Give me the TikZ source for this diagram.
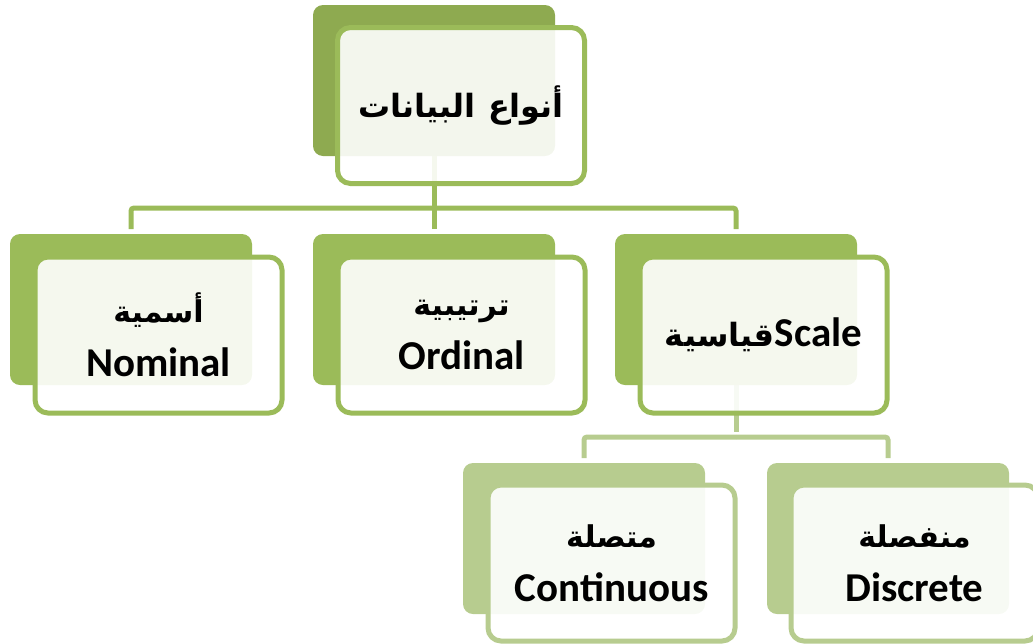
\documentclass[tikz,border=0pt]{standalone}
\usepackage{fontspec}
\TeXXeTstate=1
\newfontfamily\arfont[Script=Arabic]{DejaVu Sans}
\newfontfamily\lafont{Carlito}
\pgfdeclarelayer{bg}
\pgfsetlayers{bg,main}
\definecolor{gA}{HTML}{8EAA50}
\definecolor{gB}{HTML}{9BBB59}
\definecolor{gC}{HTML}{B7CC8F}
\newcommand{\artxt}[1]{{\fontsize{30}{50}\selectfont\arfont\beginR #1\endR}}
\begin{document}
\begin{tikzpicture}[x=1pt,y=-1pt,
  back/.style={rectangle, rounded corners=10pt, minimum width=242pt, minimum height=151pt,
    inner sep=0pt, outer sep=0pt, anchor=north west},
  front/.style={rectangle, rounded corners=13pt, draw, line width=5pt, fill=white,
    fill opacity=0.9, text opacity=1, minimum width=247pt, minimum height=156pt,
    inner sep=0pt, outer sep=0pt, anchor=north west, align=center,
    font=\fontsize{41}{50}\selectfont\bfseries},
  conn/.style={line width=5pt, rounded corners=3pt, shorten >=5pt}]
\useasboundingbox (0,0) rectangle (1033,643);
% level 1
\node[back, fill=gA] (topb) at (313,5) {};
\node[front, draw=gB] (topf) at (337.5,27.5) {\fontsize{32}{50}\selectfont\arfont\beginR أنواع\hspace{0.4em}البيانات\endR};
% level 2
\node[back, fill=gB] (nomb) at (10,234) {};
\node[front, draw=gB] (nomf) at (35,257) {\artxt{أسمية}\\[4pt]{\lafont Nominal}};
\node[back, fill=gB] (ordb) at (313,234) {};
\node[front, draw=gB] (ordf) at (338,257) {\artxt{ترتيبية}\\[4pt]{\lafont Ordinal}};
\node[back, fill=gB] (scab) at (615,234) {};
\node[front, draw=gB] (scaf) at (640,257) {{\fontsize{32}{50}\selectfont\arfont\beginR قياسية\endR}{\lafont Scale}};
% level 3
\node[back, fill=gC] (conb) at (463,463) {};
\node[front, draw=gC] (conf) at (488,485) {\artxt{متصلة}\\[4pt]{\lafont Continuous}};
\node[back, fill=gC] (disb) at (767,463) {};
\node[front, draw=gC] (disf) at (791,485) {\artxt{منفصلة}\\[4pt]{\lafont Discrete}};
% connectors
\begin{pgfonlayer}{bg}
\draw[conn, draw=gB] (topb.south) -- ++(0,52) coordinate (j1);
\draw[conn, draw=gB] (j1) -| (nomb.north);
\draw[conn, draw=gB] (j1) -| (scab.north);
\draw[conn, draw=gB] (topb.south) -- (ordb.north);
\draw[conn, draw=gC] (scab.south) -- ++(0,52) coordinate (j2);
\draw[conn, draw=gC] (j2) -| (conb.north);
\draw[conn, draw=gC] (j2) -| (disb.north);
\end{pgfonlayer}
\end{tikzpicture}
\end{document}
